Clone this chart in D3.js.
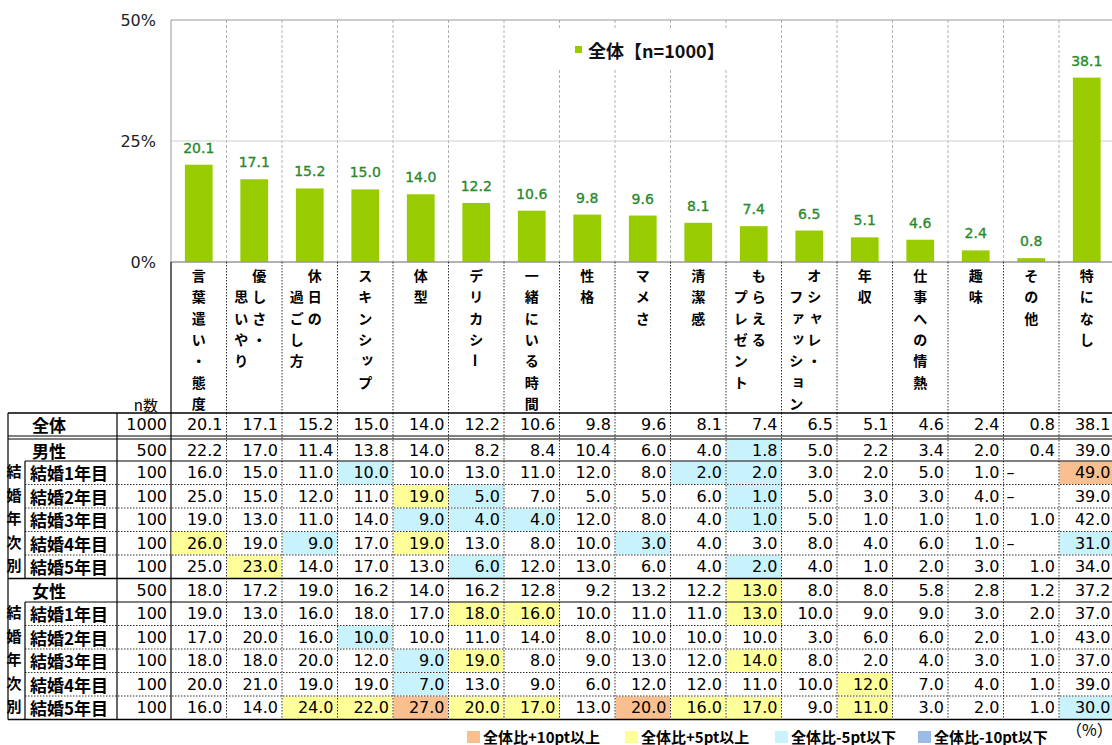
<!DOCTYPE html>
<html><head><meta charset="utf-8">
<script src="https://cdn.jsdelivr.net/npm/d3@7"></script>
<style>body{margin:0;background:#fff}svg{display:block}</style>
</head><body>
<svg id="c" width="1112" height="745"></svg>
<script>
// ---------- data ----------
const categories = ["言葉遣い・態度","優しさ・\n思いやり","休日の\n過ごし方","スキンシップ","体型","デリカシー","一緒にいる時間","性格","マメさ","清潔感","もらえる\nプレゼント","オシャレ・\nファッション","年収","仕事への情熱","趣味","その他","特になし"];
const overall = [20.1,17.1,15.2,15.0,14.0,12.2,10.6,9.8,9.6,8.1,7.4,6.5,5.1,4.6,2.4,0.8,38.1];
const yTicks = [0,25,50];
const seriesName = "全体【n=1000】";

const rowLabels = ["全体","男性","結婚1年目","結婚2年目","結婚3年目","結婚4年目","結婚5年目","女性","結婚1年目","結婚2年目","結婚3年目","結婚4年目","結婚5年目"];
const rowN = [1000,500,100,100,100,100,100,500,100,100,100,100,100];
const maleAll = [22.2,17.0,11.4,13.8,14.0,8.2,8.4,10.4,6.0,4.0,1.8,5.0,2.2,3.4,2.0,0.4,39.0];
const male1 = [16.0,15.0,11.0,10.0,10.0,13.0,11.0,12.0,8.0,2.0,2.0,3.0,2.0,5.0,1.0,null,49.0];
const male2 = [25.0,15.0,12.0,11.0,19.0,5.0,7.0,5.0,5.0,6.0,1.0,5.0,3.0,3.0,4.0,null,39.0];
const male3 = [19.0,13.0,11.0,14.0,9.0,4.0,4.0,12.0,8.0,4.0,1.0,5.0,1.0,1.0,1.0,1.0,42.0];
const male4 = [26.0,19.0,9.0,17.0,19.0,13.0,8.0,10.0,3.0,4.0,3.0,8.0,4.0,6.0,1.0,null,31.0];
const male5 = [25.0,23.0,14.0,17.0,13.0,6.0,12.0,13.0,6.0,4.0,2.0,4.0,1.0,2.0,3.0,1.0,34.0];
const femaleAll = [18.0,17.2,19.0,16.2,14.0,16.2,12.8,9.2,13.2,12.2,13.0,8.0,8.0,5.8,2.8,1.2,37.2];
const female1 = [19.0,13.0,16.0,18.0,17.0,18.0,16.0,10.0,11.0,11.0,13.0,10.0,9.0,9.0,3.0,2.0,37.0];
const female2 = [17.0,20.0,16.0,10.0,10.0,11.0,14.0,8.0,10.0,10.0,10.0,3.0,6.0,6.0,2.0,1.0,43.0];
const female3 = [18.0,18.0,20.0,12.0,9.0,19.0,8.0,9.0,13.0,12.0,14.0,8.0,2.0,4.0,3.0,1.0,37.0];
const female4 = [20.0,21.0,19.0,19.0,7.0,13.0,9.0,6.0,12.0,12.0,11.0,10.0,12.0,7.0,4.0,1.0,39.0];
const female5 = [16.0,14.0,24.0,22.0,27.0,20.0,17.0,13.0,20.0,16.0,17.0,9.0,11.0,3.0,2.0,1.0,30.0];
const groupLabel = "結婚年次別";
const legendLabels = ["全体比+10pt以上","全体比+5pt以上","全体比-5pt以下","全体比-10pt以下"];
const unitLabel = "（%）";

// ---------- layout ----------
const svg = d3.select("#c");
const X0 = 171, X1 = 1114.5;
const JP = "'Noto Sans CJK JP','Noto Sans CJK SC',sans-serif";
const NUM = "'DejaVu Sans',sans-serif";
const green = "#99cc00", labelGreen = "#2a8a2a";
const hiColors = ["#f9bf8e","#ffff99","#c9f3fc","#9bbbe6"];

const idx = d3.range(categories.length);
const x = d3.scaleBand().domain(idx).range([X0, X1]).paddingInner(0.5).paddingOuter(0.25);
const col = d3.scaleBand().domain(idx).range([X0, X1]);
const step = col.step();
const y = d3.scaleLinear().domain([0, 50]).range([262, 20]);

// plot gridlines
const g = svg.append("g");
g.selectAll(".vg").data(d3.range(1, categories.length)).join("line")
  .attr("x1", d => X0 + d*step).attr("x2", d => X0 + d*step)
  .attr("y1", y(50)).attr("y2", y(0))
  .attr("stroke", "#b0b0b0").attr("stroke-dasharray", "3,2");
g.append("line").attr("x1", X0).attr("x2", X1).attr("y1", y(25)).attr("y2", y(25)).attr("stroke", "#cfcfcf");
g.append("line").attr("x1", X0).attr("x2", X1).attr("y1", y(50)).attr("y2", y(50)).attr("stroke", "#999");
g.append("line").attr("x1", X0).attr("x2", X0).attr("y1", y(50)).attr("y2", y(0)).attr("stroke", "#999");

// legend box
g.append("rect").attr("x", 557).attr("y", 30).attr("width", 178).attr("height", 38).attr("fill", "#fff");
g.append("rect").attr("x", 575).attr("y", 46).attr("width", 7).attr("height", 7).attr("fill", green);
g.append("text").attr("x", 588).attr("y", 50).attr("dominant-baseline", "central")
  .attr("font-family", JP).attr("font-weight", 700).attr("font-size", 18).attr("fill", "#111").text(seriesName);

// y axis
const yAxis = d3.axisLeft(y).tickValues(yTicks).tickSize(0).tickPadding(15).tickFormat(d => d + "%");
const ya = svg.append("g").attr("transform", `translate(${X0},0)`).call(yAxis);
ya.select(".domain").remove();
ya.selectAll("text").attr("font-family", NUM).attr("font-size", 16).attr("fill", "#222");

// bars
svg.selectAll(".bar").data(overall).join("rect")
  .attr("x", (d, i) => x(i)).attr("width", x.bandwidth())
  .attr("y", d => y(d)).attr("height", d => y(0) - y(d)).attr("fill", green);
svg.selectAll(".blab").data(overall).join("text")
  .attr("x", (d, i) => x(i) + x.bandwidth()/2).attr("y", d => y(d) - 12)
  .attr("text-anchor", "middle").attr("font-family", NUM).attr("font-size", 14)
  .attr("fill", labelGreen).attr("stroke", labelGreen).attr("stroke-width", 0.35).text(d => d.toFixed(1));
// zero baseline
svg.append("line").attr("x1", X0).attr("x2", X1).attr("y1", y(0)).attr("y2", y(0)).attr("stroke", "#999").attr("stroke-width", 1.5);

// category label area
const labTop = 262, tabTop = 413;
svg.selectAll(".lv").data(d3.range(1, categories.length)).join("line")
  .attr("x1", d => X0 + d*step).attr("x2", d => X0 + d*step)
  .attr("y1", labTop).attr("y2", tabTop)
  .attr("stroke", "#333").attr("stroke-dasharray", "1.5,1.5");
svg.append("line").attr("x1", X0).attr("x2", X0).attr("y1", labTop).attr("y2", 719.5).attr("stroke", "#000").attr("stroke-width", 1.2);

const small = new Set(["ッ","ャ","ュ","ョ","ァ","ィ","ゥ","ェ","ォ","っ","ゃ","ゅ","ょ"]);
const pitch = 21.3, firstY = 275;
categories.forEach((lab, i) => {
  const cx = col(i) + step/2;
  const cols = lab.split("\n");
  cols.forEach((s, ci) => {
    const xx = cols.length === 1 ? cx : (ci === 0 ? cx + 5 : cx - 13);
    [...s].forEach((ch, k) => {
      const yy = firstY + (k + ci) * pitch;
      const t = svg.append("text").attr("font-family", JP).attr("font-weight", 700)
        .attr("font-size", 14).attr("fill", "#000").attr("text-anchor", "middle")
        .attr("dominant-baseline", "central").text(ch);
      if (ch === "ー") {
        t.attr("x", 0).attr("y", 0).attr("transform", `translate(${xx},${yy}) rotate(90)`);
      } else if (small.has(ch)) {
        t.attr("x", xx + 2).attr("y", yy - 2);
      } else {
        t.attr("x", xx).attr("y", yy);
      }
    });
  });
});

// n label
svg.append("text").attr("x", 158).attr("y", 404).attr("text-anchor", "end").attr("dominant-baseline", "central")
  .attr("font-family", JP).attr("font-size", 15).attr("fill", "#000").text("n数");

// ---------- table ----------
const rowVals = [overall, maleAll, male1, male2, male3, male4, male5, femaleAll, female1, female2, female3, female4, female5];
const rh = 23.5;
const rowTop = [413, 439, 461, 461+rh, 461+2*rh, 461+3*rh, 461+4*rh, 579, 602, 602+rh, 602+2*rh, 602+3*rh, 602+4*rh];
const rowH = [23, 22, rh, rh, rh, rh, rh, 23, rh, rh, rh, rh, rh];

function hiClass(v, i) {
  if (v == null) return -1;
  const d = Math.round((v - overall[i]) * 10) / 10;
  if (d >= 10) return 0;
  if (d >= 5) return 1;
  if (d <= -10) return 3;
  if (d <= -5) return 2;
  return -1;
}

rowVals.forEach((vals, r) => {
  const top = rowTop[r], h = rowH[r], cy = top + h/2;
  if (r > 0) {
    vals.forEach((v, i) => {
      const c = hiClass(v, i);
      if (c >= 0) svg.append("rect").attr("x", col(i) + 0.5).attr("y", top + 0.5)
        .attr("width", step - 1).attr("height", h - 1).attr("fill", hiColors[c]);
    });
  }
  vals.forEach((v, i) => {
    const t = svg.append("text").attr("y", cy).attr("dominant-baseline", "central")
      .attr("font-family", NUM).attr("font-size", 16).attr("fill", "#000");
    if (v == null) t.attr("x", col(i) + 3).attr("text-anchor", "start").text("–");
    else t.attr("x", col(i) + step - 4).attr("text-anchor", "end").text(v.toFixed(1));
  });
  svg.append("text").attr("x", X0 - 4).attr("y", cy).attr("text-anchor", "end").attr("dominant-baseline", "central")
    .attr("font-family", NUM).attr("font-size", 16).attr("fill", "#000").text(rowN[r]);
  const isSub = rowLabels[r].startsWith("結婚");
  svg.append("text").attr("x", isSub ? 30 : 32).attr("y", cy).attr("dominant-baseline", "central")
    .attr("font-family", JP).attr("font-weight", 700).attr("font-size", 17).attr("fill", "#000").text(rowLabels[r]);
});

// group vertical labels
[[2,6],[8,12]].forEach(([a, b]) => {
  [...groupLabel].forEach((ch, k) => {
    const r = a + k;
    svg.append("text").attr("x", 14).attr("y", rowTop[r] + rowH[r]/2 - 2)
      .attr("text-anchor", "middle").attr("dominant-baseline", "central")
      .attr("font-family", JP).attr("font-weight", 700).attr("font-size", 15).attr("fill", "#000").text(ch);
  });
});

// table lines
const L = (x1, y1, x2, y2, w, dash) => {
  const l = svg.append("line").attr("x1", x1).attr("y1", y1).attr("x2", x2).attr("y2", y2)
    .attr("stroke", "#000").attr("stroke-width", w || 1);
  if (dash) l.attr("stroke-dasharray", dash).attr("stroke", "#333");
};
const tabBot = 719.5;
svg.selectAll(".tv").data(d3.range(1, categories.length)).join("line")
  .attr("x1", d => X0 + d*step).attr("x2", d => X0 + d*step)
  .attr("y1", tabTop).attr("y2", tabBot)
  .attr("stroke", "#333").attr("stroke-dasharray", "1.5,1.5");
L(8, tabTop, X1, tabTop, 1.5);
L(8, 436, X1, 436, 1);
L(8, 439, X1, 439, 1);
L(25, 461, X1, 461, 1);
for (let k = 1; k < 5; k++) L(25, 461 + k*rh, X1, 461 + k*rh, 1, "1.5,1.5");
L(8, 578.5, X1, 578.5, 1.5);
L(25, 602, X1, 602, 1);
for (let k = 1; k < 5; k++) L(25, 602 + k*rh, X1, 602 + k*rh, 1, "1.5,1.5");
L(8, tabBot, X1, tabBot, 1.5);
L(8, tabTop, 8, tabBot, 1.2);
L(117, tabTop, 117, tabBot, 1.2);
L(25, 461, 25, 578.5, 1.2);
L(25, 602, 25, tabBot, 1.2);

// bottom legend
const legX = [467, 625, 775, 918];
legendLabels.forEach((s, i) => {
  svg.append("rect").attr("x", legX[i]).attr("y", 731).attr("width", 13).attr("height", 12).attr("fill", hiColors[i]);
  svg.append("text").attr("x", legX[i] + 16).attr("y", 736).attr("dominant-baseline", "central")
    .attr("font-family", JP).attr("font-weight", 700).attr("font-size", 15).attr("fill", "#000").text(s);
});
svg.append("text").attr("x", 1066).attr("y", 729).attr("dominant-baseline", "central")
  .attr("font-family", JP).attr("font-size", 16).attr("fill", "#000").text(unitLabel);
</script>
</body></html>
